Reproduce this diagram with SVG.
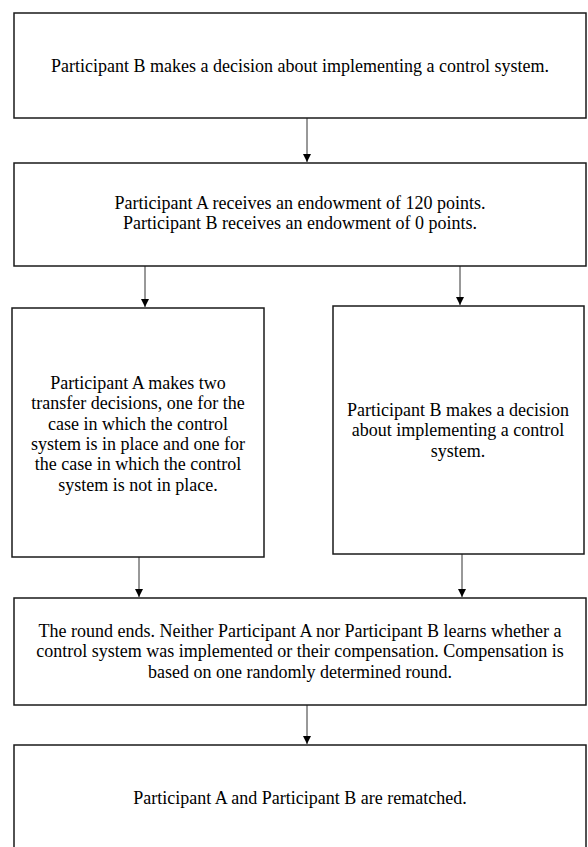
<svg xmlns="http://www.w3.org/2000/svg" width="588" height="847" viewBox="0 0 588 847">
<style>
.box{fill:#fff;stroke:#1a1a1a;stroke-width:1.5}
.c{stroke:#333;stroke-width:1;fill:none;marker-end:url(#ah)}
</style>
<defs>
<marker id="ah" viewBox="0 0 8 10" refX="8" refY="5" markerWidth="8" markerHeight="10" markerUnits="userSpaceOnUse" orient="auto">
<path d="M0,1 L8,5 L0,9 Z" fill="#000"/>
</marker>
</defs>
<rect width="588" height="847" fill="#fff"/>
<g id="connectors">
<line class="c" x1="307" y1="118" x2="307" y2="162"/>
<line class="c" x1="145" y1="266" x2="145" y2="307"/>
<line class="c" x1="460" y1="266" x2="460" y2="305"/>
<line class="c" x1="139" y1="557" x2="139" y2="597"/>
<line class="c" x1="462" y1="554" x2="462" y2="597"/>
<line class="c" x1="307" y1="705" x2="307" y2="744"/>
</g>
<g id="n1">
<rect class="box" x="14" y="13" width="572" height="105"/>
<text font-family="Liberation Serif" font-size="18" text-anchor="middle" x="300" y="72">Participant B makes a decision about implementing a control system.</text>
</g>
<g id="n2">
<rect class="box" x="14" y="163" width="572" height="103"/>
<text font-family="Liberation Serif" font-size="18" text-anchor="middle" x="300" y="209">Participant A receives an endowment of 120 points.</text>
<text font-family="Liberation Serif" font-size="18" text-anchor="middle" x="300" y="229">Participant B receives an endowment of 0 points.</text>
</g>
<g id="n3">
<rect class="box" x="12" y="308" width="252" height="249"/>
<text font-family="Liberation Serif" font-size="18" text-anchor="middle" x="138" y="389">Participant A makes two</text>
<text font-family="Liberation Serif" font-size="18" text-anchor="middle" x="138" y="409">transfer decisions, one for the</text>
<text font-family="Liberation Serif" font-size="18" text-anchor="middle" x="138" y="430">case in which the control</text>
<text font-family="Liberation Serif" font-size="18" text-anchor="middle" x="138" y="450">system is in place and one for</text>
<text font-family="Liberation Serif" font-size="18" text-anchor="middle" x="138" y="470">the case in which the control</text>
<text font-family="Liberation Serif" font-size="18" text-anchor="middle" x="138" y="491">system is not in place.</text>
</g>
<g id="n4">
<rect class="box" x="333" y="306" width="251" height="248"/>
<text font-family="Liberation Serif" font-size="18" text-anchor="middle" x="458" y="416">Participant B makes a decision</text>
<text font-family="Liberation Serif" font-size="18" text-anchor="middle" x="458" y="436">about implementing a control</text>
<text font-family="Liberation Serif" font-size="18" text-anchor="middle" x="458" y="457">system.</text>
</g>
<g id="n5">
<rect class="box" x="14" y="598" width="572" height="107"/>
<text font-family="Liberation Serif" font-size="18" text-anchor="middle" x="300" y="637">The round ends. Neither Participant A nor Participant B learns whether a</text>
<text font-family="Liberation Serif" font-size="18" text-anchor="middle" x="300" y="657">control system was implemented or their compensation. Compensation is</text>
<text font-family="Liberation Serif" font-size="18" text-anchor="middle" x="300" y="678">based on one randomly determined round.</text>
</g>
<g id="n6">
<rect class="box" x="14" y="745" width="572" height="120"/>
<text font-family="Liberation Serif" font-size="18" text-anchor="middle" x="300" y="804">Participant A and Participant B are rematched.</text>
</g>
</svg>
